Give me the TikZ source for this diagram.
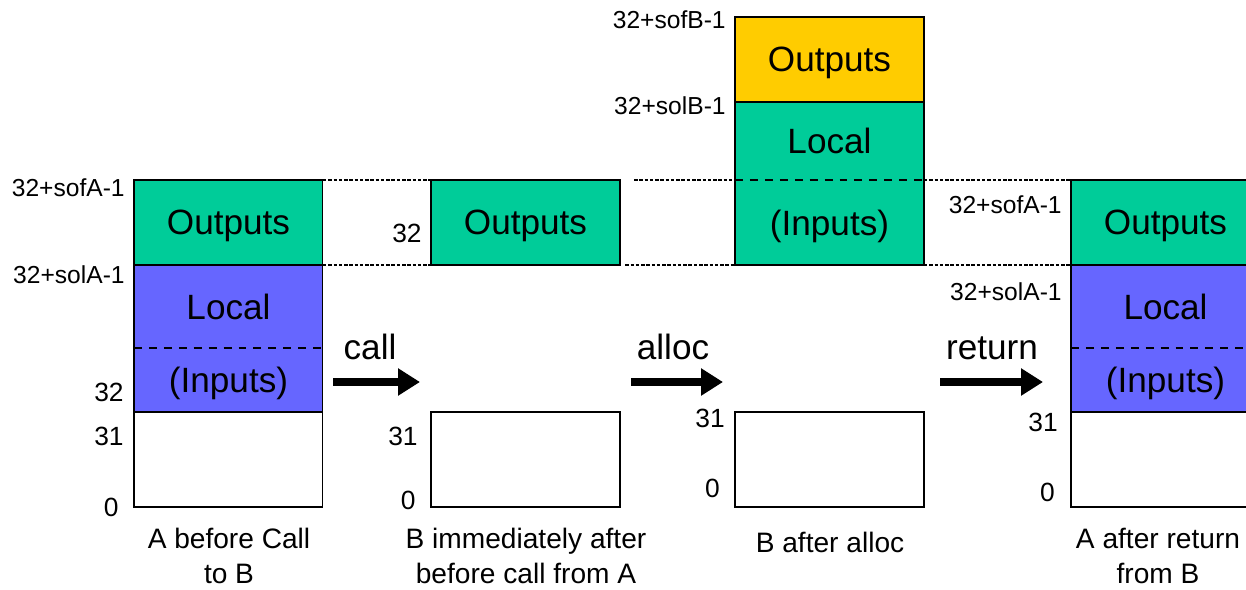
\documentclass[tikz,border=0pt]{standalone}
\usepackage{fontspec}
\setmainfont{Liberation Sans}
\usetikzlibrary{arrows.meta}
\definecolor{stkgreen}{RGB}{0,204,153}
\definecolor{stkblue}{RGB}{102,102,255}
\definecolor{stkorange}{RGB}{255,204,0}
\begin{document}
\begin{tikzpicture}[x=0.02cm,y=-0.02cm,
  seg/.style={anchor=north west,inner sep=0pt,outer sep=0pt,minimum width=3.78cm,
    minimum height=1.7cm,text depth=0pt,line width=0.6pt,font=\fontsize{20}{24}\selectfont},
  frame/.style={line width=0.6pt},
  split/.style={line width=1pt,dash pattern=on 4.5pt off 4pt},
  link/.style={line width=1.3pt,dash pattern=on 2pt off 1pt},
  tag/.style={anchor=east,inner sep=0pt,font=\fontsize{14}{17}\selectfont},
  num/.style={anchor=east,inner sep=0pt,font=\fontsize{15}{18}\selectfont},
  stagetext/.style={align=center,inner sep=0pt,font=\fontsize{16}{19.5}\selectfont},
  word/.style={anchor=base,inner sep=0pt,font=\fontsize{20}{24}\selectfont},
  mv/.style={line width=4.5pt,-{Triangle[length=0.44cm,width=0.52cm]}}]
\useasboundingbox (0,0) rectangle (1246,589);
\clip (0,0) rectangle (1246,589);

% A before the call
\node[seg,draw,fill=stkgreen] (outA) at (134,180) {Outputs};
\node[seg,fill=stkblue,minimum height=1.66cm] (locA) at (134,265) {Local};
\node[seg,fill=stkblue,minimum height=1.28cm] (inA) at (134,348) {(Inputs)};
\node[seg,draw,minimum height=1.9cm] (lowA) at (134,412) {};
\draw[frame] (locA.north west) rectangle (inA.south east);
\draw[split] (locA.south west) -- (locA.south east);
\node[tag] (sofA) at (125,188) {32+sofA-1};
\node[tag] (solA) at (125,275) {32+solA-1};
\node[num] (a32) at (124,392) {32};
\node[num] (a31) at (124,436) {31};
\node[num] (a0) at (119,507) {0};
\node[stagetext] (capA) at (229,556) {A before Call\\to B};

% B right after the call
\node[seg,draw,fill=stkgreen] (outB) at (431,180) {Outputs};
\node[seg,draw,minimum height=1.9cm] (lowB) at (431,412) {};
\node[num] (b32) at (422,233) {32};
\node[num] (b31) at (418,436) {31};
\node[num] (b0) at (416,500) {0};
\node[stagetext] (capB) at (526,556) {B immediately after\\before call from A};

% B after alloc
\node[seg,draw,fill=stkorange] (outC) at (735,17) {Outputs};
\node[seg,fill=stkgreen,minimum height=1.56cm] (locC) at (735,102) {Local};
\node[seg,fill=stkgreen] (inC) at (735,180) {(Inputs)};
\node[seg,draw,minimum height=1.9cm] (lowC) at (735,412) {};
\draw[frame] (locC.north west) rectangle (inC.south east);
\draw[split] (locC.south west) -- (locC.south east);
\node[tag] (sofB) at (726,20) {32+sofB-1};
\node[tag] (solB) at (726,106) {32+solB-1};
\node[num] (c31) at (725,418) {31};
\node[num] (c0) at (720,488) {0};
\node[stagetext] (capC) at (830,542) {B after alloc};

% A after the return
\node[seg,draw,fill=stkgreen] (outD) at (1071,180) {Outputs};
\node[seg,fill=stkblue,minimum height=1.66cm] (locD) at (1071,265) {Local};
\node[seg,fill=stkblue,minimum height=1.28cm] (inD) at (1071,348) {(Inputs)};
\node[seg,draw,minimum height=1.9cm] (lowD) at (1071,412) {};
\draw[frame] (locD.north west) rectangle (inD.south east);
\draw[split] (locD.south west) -- (locD.south east);
\node[tag] (sofD) at (1062,205) {32+sofA-1};
\node[tag] (solD) at (1062,292) {32+solA-1};
\node[num] (d31) at (1058,422) {31};
\node[num] (d0) at (1055,492) {0};
\node[stagetext] (capD) at (1158,556) {A after return\\from B};

% frame boundaries carried across
\draw[link] (outA.north east) -- (outB.north west);
\draw[link] (outA.south east) -- (outB.south west);
\draw[link,shorten <=8] (outB.north east) -- (inC.north west);
\draw[link,shorten <=3] (outB.south east) -- (inC.south west);
\draw[link] (inC.north east) -- (outD.north west);
\draw[link] (inC.south east) -- (outD.south west);

% steps
\coordinate (callS) at (333,382);
\coordinate (callE) at (420,382);
\coordinate (allocS) at (631,382);
\coordinate (allocE) at (723,382);
\coordinate (retS) at (940,382);
\coordinate (retE) at (1043,382);
\draw[mv] (callS) -- (callE);
\draw[mv] (allocS) -- (allocE);
\draw[mv] (retS) -- (retE);
\node[word] (call) at (370,359) {call};
\node[word] (alloc) at (673,359) {alloc};
\node[word] (ret) at (992,359) {return};
\end{tikzpicture}
\end{document}
